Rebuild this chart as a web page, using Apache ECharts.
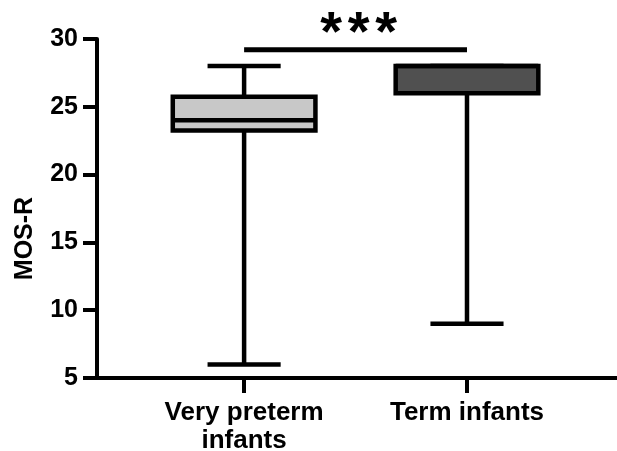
<!DOCTYPE html>
<html>
<head>
<meta charset="utf-8">
<script src="https://cdn.jsdelivr.net/npm/echarts@6/dist/echarts.min.js"></script>
<style>
  html, body { margin: 0; padding: 0; background: #fff; }
  #chart { width: 617px; height: 451px; }
</style>
</head>
<body>
<div id="chart"></div>
<script>
// groups on the x axis (positions 1 and 2)
const groups = ["Very preterm\ninfants", "Term infants"];
const groupPos = [1, 2];
// box stats: min, Q1, median, Q3, max
const boxMin = [6, 9];
const boxQ1 = [23.25, 26];
const boxMedian = [24, 28];
const boxQ3 = [25.75, 28];
const boxMax = [28, 28];
const boxFill = ["#c8c8c8", "#505050"];
// significance bracket: from group, to group, height, label
const sigFrom = [1];
const sigTo = [2];
const sigHeight = [29.2];
const sigLabel = ["***"];
const yTicks = [5, 10, 15, 20, 25, 30];

const FONT = "Liberation Sans, Arial, sans-serif";
const chart = echarts.init(document.getElementById("chart"));

const boxData = groupPos.map((x, i) => [x, boxMin[i], boxQ1[i], boxMedian[i], boxQ3[i], boxMax[i]]);
const sigData = sigFrom.map((a, i) => [a, sigTo[i], sigHeight[i]]);

function renderBox(params, api) {
  const x = api.value(0);
  const half = 0.32;      // half box width in x units
  const capHalf = 0.164;  // half whisker cap width
  const lw = 4.5;
  const pMin = api.coord([x, api.value(1)]);
  const pQ1 = api.coord([x, api.value(2)]);
  const pMed = api.coord([x, api.value(3)]);
  const pQ3 = api.coord([x, api.value(4)]);
  const pMax = api.coord([x, api.value(5)]);
  const left = api.coord([x - half, 0])[0];
  const right = api.coord([x + half, 0])[0];
  const capL = api.coord([x - capHalf, 0])[0];
  const capR = api.coord([x + capHalf, 0])[0];
  const line = (x1, y1, x2, y2) => ({
    type: "line",
    shape: { x1, y1, x2, y2 },
    style: { stroke: "#000", lineWidth: lw }
  });
  return {
    type: "group",
    children: [
      line(pMin[0], pMin[1], pQ1[0], pQ1[1]),
      line(pMax[0], pMax[1], pQ3[0], pQ3[1]),
      line(capL, pMin[1], capR, pMin[1]),
      line(capL, pMax[1], capR, pMax[1]),
      {
        type: "rect",
        shape: { x: left, y: pQ3[1], width: right - left, height: pQ1[1] - pQ3[1] },
        style: { fill: boxFill[params.dataIndex], stroke: "#000", lineWidth: lw }
      },
      line(left, pMed[1], right, pMed[1])
    ]
  };
}

function renderSig(params, api) {
  const a = api.coord([api.value(0), api.value(2)]);
  const b = api.coord([api.value(1), api.value(2)]);
  const mid = (a[0] + b[0]) / 2 + 3;
  const chars = sigLabel[params.dataIndex].split("");
  const step = 27.5;
  const stars = chars.map((c, i) => ({
    type: "text",
    x: mid + (i - (chars.length - 1) / 2) * step,
    y: a[1] - 15,
    style: {
      text: c,
      font: "bold 56px " + FONT,
      fill: "#000",
      align: "center",
      verticalAlign: "middle"
    }
  }));
  return {
    type: "group",
    children: [
      {
        type: "line",
        shape: { x1: a[0], y1: a[1], x2: b[0], y2: b[1] },
        style: { stroke: "#000", lineWidth: 5 }
      }
    ].concat(stars)
  };
}

chart.setOption({
  animation: false,
  backgroundColor: "#fff",
  grid: { left: 97, right: 0, top: 39, bottom: 73, outerBoundsMode: "none", containLabel: false },
  xAxis: {
    type: "value",
    min: 0.34,
    max: 2.673,
    splitLine: { show: false },
    axisLine: { onZero: false, lineStyle: { color: "#000", width: 4 } },
    axisTick: { customValues: groupPos, length: 15, lineStyle: { color: "#000", width: 4 } },
    axisLabel: {
      customValues: groupPos,
      formatter: (v) => groups[Math.round(v) - 1],
      color: "#000",
      fontFamily: FONT,
      fontWeight: "bold",
      fontSize: 26,
      lineHeight: 28,
      margin: 21
    }
  },
  yAxis: {
    type: "value",
    min: 5,
    max: 30,
    interval: 5,
    name: "MOS-R",
    nameLocation: "middle",
    nameGap: 59,
    nameTextStyle: {
      color: "#000",
      fontFamily: FONT,
      fontWeight: "bold",
      fontSize: 25,
      padding: [0, 60, 0, 0]
    },
    splitLine: { show: false },
    axisLine: { show: true, onZero: false, lineStyle: { color: "#000", width: 4 } },
    axisTick: { show: true, length: 14, lineStyle: { color: "#000", width: 4 } },
    axisLabel: {
      color: "#000",
      fontFamily: FONT,
      fontWeight: "bold",
      fontSize: 25,
      margin: 19,
      formatter: (v) => (yTicks.indexOf(v) >= 0 ? String(v) : "")
    }
  },
  series: [
    {
      type: "custom",
      renderItem: renderBox,
      encode: { x: 0, y: [1, 2, 3, 4, 5] },
      data: boxData,
      clip: false
    },
    {
      type: "custom",
      renderItem: renderSig,
      encode: { x: [0, 1], y: 2 },
      data: sigData,
      clip: false
    }
  ]
});
</script>
</body>
</html>
